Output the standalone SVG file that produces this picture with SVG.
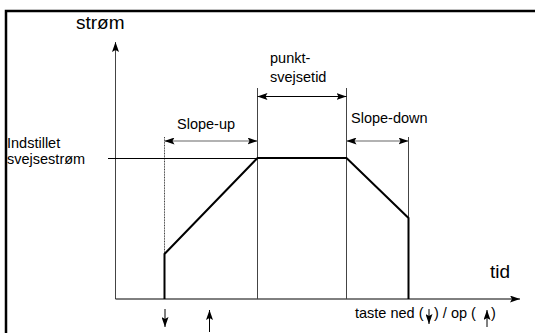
<svg xmlns="http://www.w3.org/2000/svg" width="535" height="333" viewBox="0 0 535 333">
<defs>
<marker id="ah" viewBox="0 0 10 7" refX="10" refY="3.5" markerWidth="10" markerHeight="7" markerUnits="userSpaceOnUse" orient="auto-start-reverse">
<path d="M0,0 L10,3.5 L0,7 L2,3.5 Z" fill="#000"/>
</marker>
</defs>
<style>
text{font-family:"Liberation Sans",Arial,sans-serif;fill:#000}
.lbl{font-size:14.5px}
.big{font-size:19px}
.thin{stroke:#444;stroke-width:1;fill:none}
.dim{stroke:#666;stroke-width:1.2;fill:none}
.wave{stroke:#000;stroke-width:2;fill:none;stroke-linejoin:miter}
</style>
<rect x="6" y="11" width="545" height="345" fill="none" stroke="#000" stroke-width="2.5"/>
<g id="connectors">
<line class="thin" x1="115.5" y1="299" x2="115.5" y2="42" marker-end="url(#ah)"/>
<line x1="115.5" y1="299" x2="520" y2="299" stroke="#000" stroke-width="1" marker-end="url(#ah)"/>
<line class="thin" x1="164.5" y1="137" x2="164.5" y2="299" stroke-dasharray="1,0.6"/>
<line class="thin" x1="257.5" y1="88" x2="257.5" y2="299"/>
<line class="thin" x1="346.5" y1="88" x2="346.5" y2="299"/>
<line class="thin" x1="408.5" y1="137" x2="408.5" y2="299"/>
<line x1="108" y1="158.5" x2="257" y2="158.5" stroke="#000" stroke-width="1"/>
<line class="dim" x1="164.5" y1="141" x2="257.5" y2="141" marker-start="url(#ah)" marker-end="url(#ah)"/>
<line x1="257.5" y1="96.5" x2="346.5" y2="96.5" stroke="#000" stroke-width="1" marker-start="url(#ah)" marker-end="url(#ah)"/>
<line class="dim" x1="346.5" y1="141" x2="408.5" y2="141" marker-start="url(#ah)" marker-end="url(#ah)"/>
<polyline class="wave" points="164.5,299 164.5,254 257.5,158 346.5,158 408.5,218 408.5,299"/>
<line x1="165" y1="309" x2="165" y2="327" stroke="#000" stroke-width="1" marker-end="url(#ah)"/>
<line x1="209.5" y1="332" x2="209.5" y2="310" stroke="#000" stroke-width="1" marker-end="url(#ah)"/>
<line x1="429" y1="309" x2="429" y2="324" stroke="#000" stroke-width="1" marker-end="url(#ah)"/>
<line x1="487" y1="327" x2="487" y2="310" stroke="#000" stroke-width="1" marker-end="url(#ah)"/>
</g>
<g id="axis-labels">
<text class="big" x="76" y="29">strøm</text>
<text class="big" x="490" y="278" font-size="21">tid</text>
</g>
<g id="setpoint">
<text class="lbl" x="7" y="148">Indstillet</text>
<text class="lbl" x="7" y="164">svejsestrøm</text>
</g>
<g id="slope-up"><text class="lbl" x="177" y="129">Slope-up</text></g>
<g id="punkt"><text class="lbl" x="270" y="63">punkt-</text><text class="lbl" x="270" y="82">svejsetid</text></g>
<g id="slope-down"><text class="lbl" x="351" y="123">Slope-down</text></g>
<g id="taste">
<text class="lbl" x="355" y="318">taste ned (</text>
<text class="lbl" x="434" y="318">) / op (</text>
<text class="lbl" x="491" y="318">)</text>
</g>
</svg>
